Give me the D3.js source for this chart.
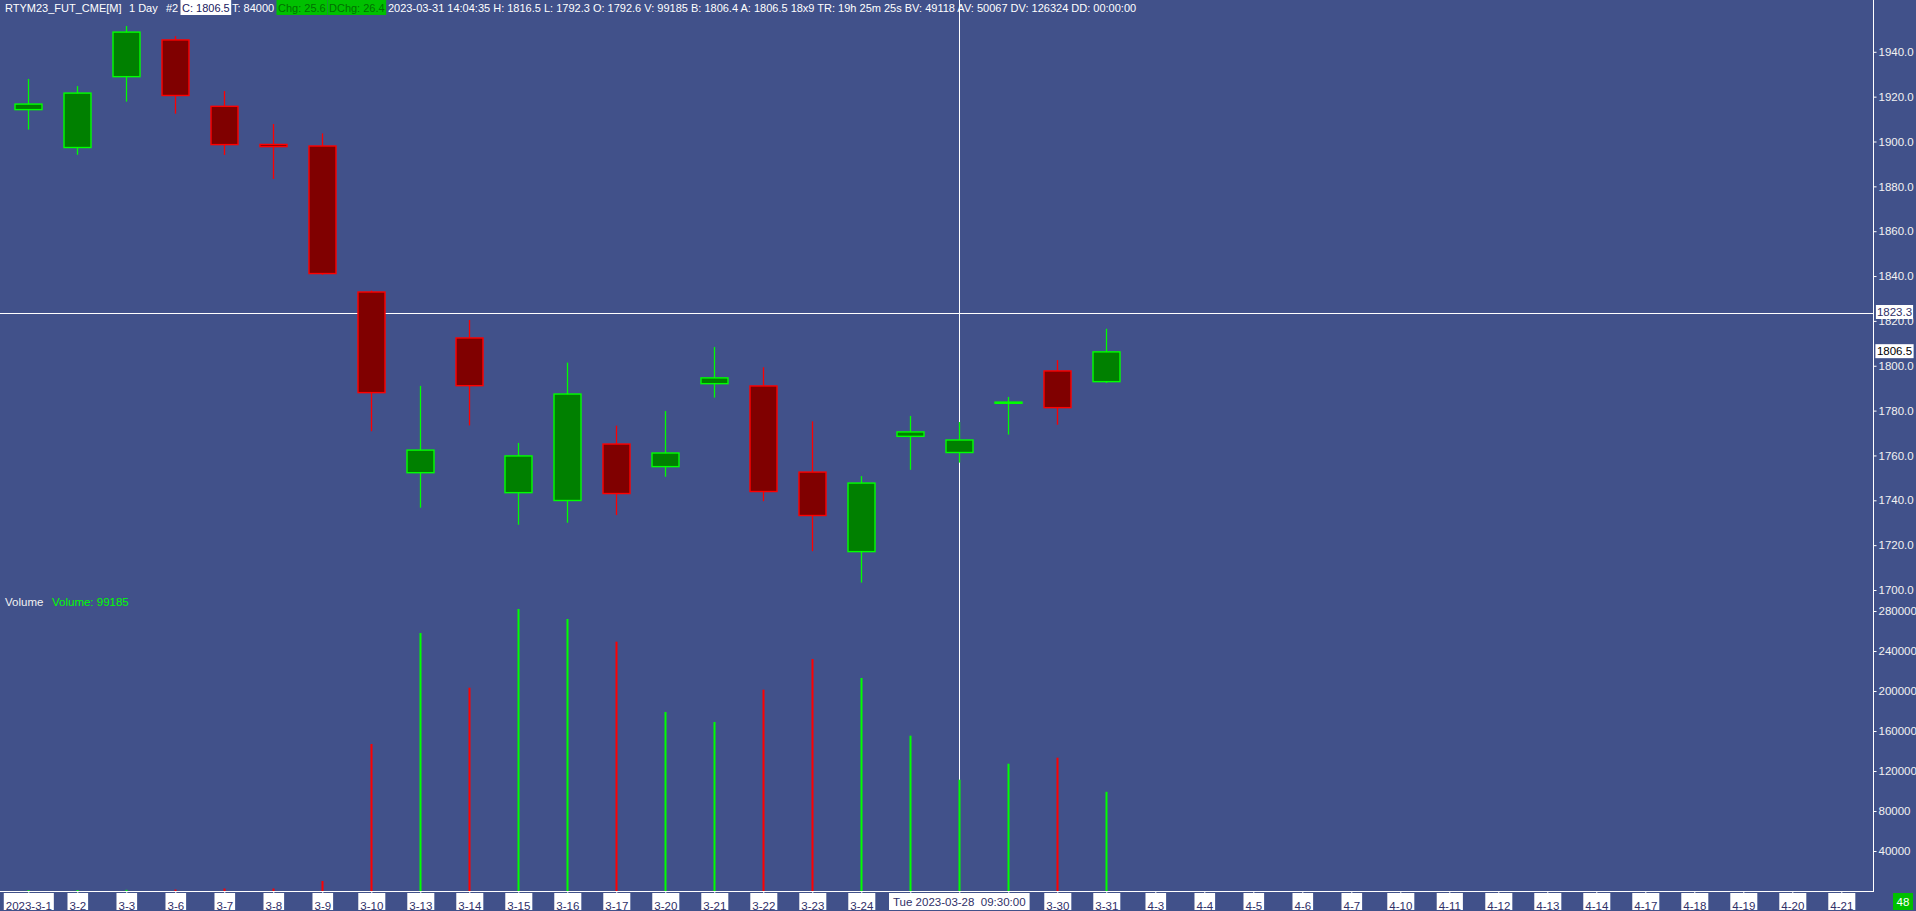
<!DOCTYPE html>
<html><head><meta charset="utf-8">
<script src="https://cdn.jsdelivr.net/npm/d3@7"></script>
<style>
html,body{margin:0;padding:0;background:#41518A;overflow:hidden}
svg{display:block}
text{font-family:"Liberation Sans",Arial,sans-serif;font-size:11px}
</style></head>
<body><svg id="c" width="1916" height="911"></svg>
<script>
// ---- data ----
const dateLabels = ["2023-3-1","3-2","3-3","3-6","3-7","3-8","3-9","3-10","3-13","3-14","3-15","3-16","3-17","3-20","3-21","3-22","3-23","3-24","3-27","3-28","3-29","3-30","3-31","4-3","4-4","4-5","4-6","4-7","4-10","4-11","4-12","4-13","4-14","4-17","4-18","4-19","4-20","4-21"];
const openVals  = [1913.9,1897.0,1928.6,1945.6,1916.0,1899.0,1898.3,1833.2,1752.0,1812.7,1743.1,1739.6,1765.4,1754.7,1791.7,1791.3,1752.9,1716.8,1768.2,1761.0,1783.3,1798.0,1792.6];
const highVals  = [1927.9,1924.7,1951.5,1947.0,1922.5,1907.8,1903.6,1833.5,1791.0,1820.4,1765.6,1801.4,1773.3,1779.8,1808.4,1799.3,1775.2,1750.8,1777.6,1774.9,1786.1,1802.5,1816.5];
const lowVals   = [1905.3,1894.1,1917.8,1912.4,1894.0,1883.3,1840.6,1770.8,1736.7,1773.4,1729.1,1730.0,1733.4,1750.5,1785.8,1739.6,1717.3,1703.3,1753.6,1756.8,1769.3,1773.7,1792.3];
const closeVals = [1917.0,1921.9,1949.1,1920.2,1898.3,1897.4,1840.8,1787.7,1762.7,1790.8,1760.1,1787.7,1742.7,1761.4,1794.9,1743.6,1732.9,1748.0,1770.8,1767.2,1784.1,1781.0,1806.5];
const volumeVals = [800,1000,1200,1500,2500,2500,10000,147000,258000,203300,282000,272000,249300,179000,169000,201300,232000,213000,155300,111300,127300,133300,99185];
const priceTicks = [1700,1720,1740,1760,1780,1800,1820,1840,1860,1880,1900,1920,1940];
const volumeTicks = [40000,80000,120000,160000,200000,240000,280000];
const crossPrice = 1823.3, crossDateIndex = 19, lastPrice = 1806.5;
const crossTimeLabel = "Tue 2023-03-28\u00A0\u00A009:30:00";
const headerParts = [
  {t:"RTYM23_FUT_CME[M]", x:5, kind:"plain"},
  {t:"1 Day", x:129, kind:"plain"},
  {t:"#2", x:166, kind:"plain"},
  {t:"C: 1806.5", x:182, kind:"white"},
  {t:"T: 84000", x:232, kind:"plain"},
  {t:"Chg: 25.6", x:278, kind:"green"},
  {t:"DChg: 26.4", x:329, kind:"green"},
  {t:"2023-03-31 14:04:35 H: 1816.5 L: 1792.3 O: 1792.6 V: 99185 B: 1806.4 A: 1806.5 18x9 TR: 19h 25m 25s BV: 49118 AV: 50067 DV: 126324 DD: 00:00:00", x:388, kind:"plain"}
];

const BG="#41518A", UPF="#008000", UPS="#00FF00", DNF="#800000", DNS="#FF0000";
const svg = d3.select("#c");
const axisX = 1873, axisY = 891;

const x = d3.scalePoint().domain(dateLabels).range([28.3, 28.3 + 49*(dateLabels.length-1)]);
const y = d3.scaleLinear().domain([1700,1940]).range([590, 51.8]);
const yv = d3.scaleLinear().domain([0,280000]).range([axisY, 611]);

svg.append("rect").attr("width",1916).attr("height",911).attr("fill",BG);

const bars = openVals.map((o,i)=>({d:dateLabels[i],o,h:highVals[i],l:lowVals[i],c:closeVals[i],v:volumeVals[i]}));

// crosshair (under candles)
const cx = x(dateLabels[crossDateIndex]);
svg.append("line").attr("x1",Math.round(cx)+0.5).attr("x2",Math.round(cx)+0.5).attr("y1",0).attr("y2",axisY).attr("stroke","#fff").attr("stroke-width",1);
svg.append("line").attr("x1",0).attr("x2",axisX).attr("y1",Math.round(y(crossPrice))+0.5).attr("y2",Math.round(y(crossPrice))+0.5).attr("stroke","#fff").attr("stroke-width",1);

// wicks
svg.append("g").selectAll("line").data(bars).join("line")
  .attr("x1",d=>Math.round(x(d.d))+0.5).attr("x2",d=>Math.round(x(d.d))+0.5)
  .attr("y1",d=>y(d.h)).attr("y2",d=>y(d.l))
  .attr("stroke",d=>d.c>=d.o?UPS:DNS).attr("stroke-width",1.3);
// bodies
const bw = 27;
svg.append("g").selectAll("rect").data(bars).join("rect")
  .attr("x",d=>Math.round(x(d.d))+0.5-bw/2)
  .attr("y",d=>y(Math.max(d.o,d.c))+0.7)
  .attr("width",bw)
  .attr("height",d=>Math.max(1.2,Math.abs(y(d.o)-y(d.c))-1.4))
  .attr("fill",d=>d.c>=d.o?UPF:DNF)
  .attr("stroke",d=>d.c>=d.o?UPS:DNS).attr("stroke-width",1.4);

// volume bars
svg.append("g").selectAll("rect").data(bars).join("rect")
  .attr("x",d=>Math.round(x(d.d))-0.5).attr("width",2)
  .attr("y",d=>yv(d.v)).attr("height",d=>axisY-yv(d.v))
  .attr("fill",d=>d.c>=d.o?UPS:DNS);

// right axis line & bottom line
svg.append("line").attr("x1",axisX+0.5).attr("x2",axisX+0.5).attr("y1",0).attr("y2",axisY+1).attr("stroke","#fff");
svg.append("line").attr("x1",0).attr("x2",axisX+1).attr("y1",axisY+0.5).attr("y2",axisY+0.5).attr("stroke","#fff");

// price axis (clipped to price pane)
svg.append("clipPath").attr("id","pclip").append("rect").attr("x",1860).attr("y",0).attr("width",60).attr("height",594);
const pwrap = svg.append("g").attr("clip-path","url(#pclip)");
const pa = pwrap.append("g").attr("transform",`translate(${axisX+0.5},0)`)
  .call(d3.axisRight(y).tickValues(priceTicks).tickSize(3).tickPadding(2).tickFormat(d=>d.toFixed(1)));
const va = svg.append("g").attr("transform",`translate(${axisX+0.5},0)`)
  .call(d3.axisRight(yv).tickValues(volumeTicks).tickSize(3).tickPadding(2).tickFormat(d=>String(d)));
[pa,va].forEach(g=>{
  g.select(".domain").remove();
  g.selectAll(".tick line").attr("stroke","#fff");
  g.selectAll(".tick text").attr("fill","#F2F2F2").style("font-size","11.5px").attr("font-family",null);
});

// x axis
const xa = svg.append("g").attr("transform",`translate(0,${axisY})`)
  .call(d3.axisBottom(x).tickSize(4).tickPadding(4).tickSizeOuter(0));
xa.select(".domain").remove();
xa.selectAll(".tick line").attr("stroke","#fff");
xa.selectAll(".tick text").attr("fill","#303068").attr("font-family",null).style("font-size","11.5px").attr("dy","0.95em");

// crosshair time label on the x axis
const tg = svg.append("g");
const tt = tg.append("text").attr("x",cx).attr("y",902).attr("text-anchor","middle").attr("dy","0.35em")
  .attr("fill","#303068").style("font-size","11.5px").text(crossTimeLabel);
const tw = tt.node().getComputedTextLength();
const tbox = [cx-tw/2-4, cx+tw/2+4];
tg.insert("rect","text").attr("x",tbox[0]).attr("y",893).attr("width",tbox[1]-tbox[0]).attr("height",17).attr("fill","#fff");

xa.selectAll(".tick").each(function(d){
  const t = d3.select(this).select("text");
  const w = t.node().getComputedTextLength();
  const px = x(d);
  if(px+w/2+2 > tbox[0] && px-w/2-2 < tbox[1]){ t.remove(); return; } // hidden under crosshair label
  d3.select(this).insert("rect","text").attr("x",-w/2-2).attr("y",2).attr("width",w+4).attr("height",17).attr("fill","#fff");
});
tg.raise();

// crosshair price labels
function boxLabel(str, cxp, cyp, fill, color, padw){
  const g = svg.append("g");
  const t = g.append("text").attr("x",cxp).attr("y",cyp).attr("text-anchor","middle").attr("dy","0.35em")
    .attr("fill",color).style("font-size","11.5px").text(str);
  const w = t.node().getComputedTextLength();
  g.insert("rect","text").attr("x",cxp-w/2-padw).attr("y",cyp-7).attr("width",w+2*padw).attr("height",14).attr("fill",fill);
  return g;
}
boxLabel(crossPrice.toFixed(1), 1894.5, y(crossPrice)-1.5, "#fff", "#303068", 1);
boxLabel(lastPrice.toFixed(1), 1894.5, y(lastPrice), "#fff", "#000", 1.5);
{
  const g = svg.append("g");
  g.append("rect").attr("x",1893).attr("y",893).attr("width",20).attr("height",17).attr("fill","#00C000");
  g.append("text").attr("x",1903).attr("y",902).attr("text-anchor","middle").attr("dy","0.35em").attr("fill","#fff").style("font-size","11.5px").text("48");
}

// volume study label
svg.append("text").attr("x",5).attr("y",606).attr("fill","#F2F2F2").style("font-size","11.5px").text("Volume");
svg.append("text").attr("x",52).attr("y",606).attr("fill","#00FF00").style("font-size","11.5px").text("Volume: 99185");

// header
headerParts.forEach(p=>{
  const g = svg.append("g");
  const color = p.kind==="white" ? "#202060" : p.kind==="green" ? "#007000" : "#FFFFFF";
  const t = g.append("text").attr("x",p.x).attr("y",11.5).attr("fill",color).style("font-size","11px").text(p.t);
  if(p.kind!=="plain"){
    const w = t.node().getComputedTextLength();
    g.insert("rect","text").attr("x",p.x-1.5).attr("y",0).attr("width",w+3).attr("height",15)
      .attr("fill",p.kind==="white"?"#fff":"#00C000");
  }
});
</script></body></html>
